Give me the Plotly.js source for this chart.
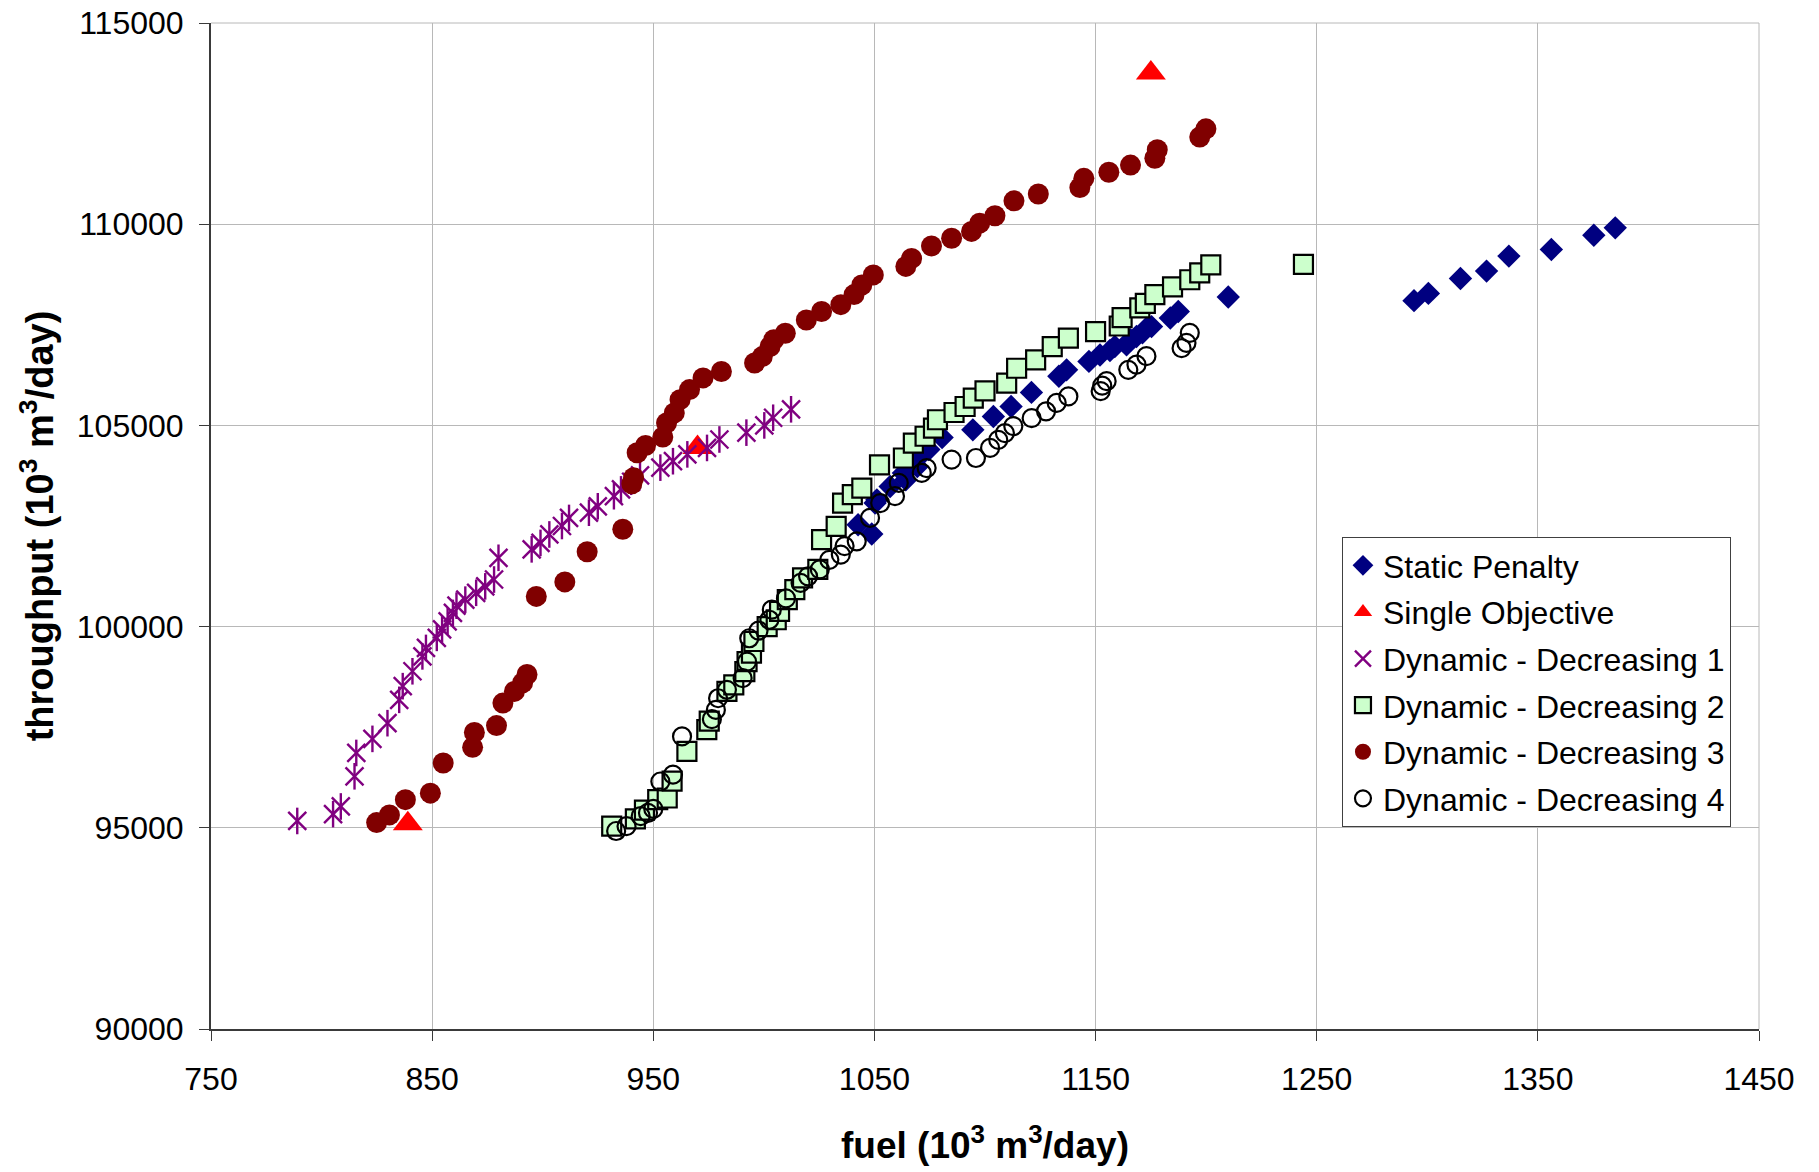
<!DOCTYPE html>
<html>
<head>
<meta charset="utf-8">
<script src="https://cdn.plot.ly/plotly-3.0.1.min.js"></script>
<style>html,body{margin:0;padding:0;background:#fff;}#chart{width:1819px;height:1172px;}</style>
</head>
<body>
<div id="chart"></div>
<script>
// ---- data (fuel in 10^3 m3/day, throughput in 10^3 m3/day) ----
const staticFuel = [1042.6, 1048.8, 1050.3, 1051.1, 1057.1, 1063.1, 1064.2, 1069.1, 1069.4, 1074.6, 1080.6, 1094.5, 1103.8, 1111.8, 1121.0, 1133.4, 1136.9, 1147.0, 1152.0, 1156.5, 1158.7, 1164.0, 1165.8, 1168.5, 1171.2, 1173.8, 1175.3, 1183.8, 1187.4, 1210.0, 1294.0, 1300.5, 1315.0, 1326.8, 1336.9, 1356.1, 1375.3, 1385.0];
const staticThru = [102530, 102300, 103070, 103150, 103480, 103815, 103650, 104150, 103980, 104400, 104700, 104890, 105220, 105470, 105820, 106220, 106380, 106590, 106750, 106860, 106960, 107000, 107130, 107210, 107300, 107460, 107455, 107670, 107830, 108190, 108100, 108280, 108650, 108835, 109207, 109372, 109727, 109909];

const singleFuel = [839, 970, 1175];
const singleThru = [95100, 104450, 113760];

const dyn1Fuel = [789.0, 805.2, 808.7, 814.9, 815.7, 823.0, 829.8, 835.1, 836.7, 841.1, 845.6, 847.2, 852.1, 854.5, 857.0, 859.4, 861.0, 865.0, 869.9, 874.0, 878.0, 880.0, 895.0, 899.0, 903.0, 908.7, 911.9, 920.9, 924.9, 932.2, 935.4, 940.0, 944.0, 953.2, 958.9, 965.4, 974.3, 979.9, 992.1, 1000.2, 1004.2, 1012.3];
const dyn1Thru = [95170, 95340, 95530, 96280, 96860, 97210, 97600, 98180, 98520, 98890, 99260, 99470, 99720, 99930, 100130, 100340, 100520, 100670, 100840, 101000, 101170, 101710, 101920, 102080, 102290, 102500, 102700, 102830, 102990, 103240, 103410, 103600, 103760, 103950, 104110, 104280, 104440, 104650, 104820, 105000, 105190, 105400];

const dyn2Fuel = [931.2, 941.9, 946.0, 952.0, 956.3, 958.5, 965.2, 974.2, 975.3, 983.3, 986.4, 991.4, 992.4, 994.4, 995.5, 1001.5, 1005.6, 1007.1, 1010.6, 1014.0, 1017.5, 1024.4, 1026.1, 1032.7, 1035.6, 1040.0, 1044.3, 1052.3, 1063.1, 1067.6, 1072.9, 1076.7, 1078.5, 1086.0, 1091.0, 1094.7, 1100.0, 1109.8, 1114.3, 1122.9, 1130.4, 1137.7, 1150.0, 1160.7, 1162.0, 1170.0, 1172.5, 1176.8, 1184.8, 1192.6, 1197.1, 1202.1, 1244.0];
const dyn2Thru = [95040, 95220, 95440, 95700, 95740, 96160, 96900, 97440, 97650, 98390, 98550, 98880, 99130, 99340, 99630, 100000, 100170, 100380, 100670, 100920, 101210, 101420, 102160, 102490, 103070, 103280, 103440, 104020, 104190, 104560, 104730, 104930, 105140, 105320, 105470, 105680, 105860, 106050, 106420, 106630, 106960, 107170, 107330, 107470, 107680, 107920, 108030, 108250, 108440, 108620, 108790, 108990, 109000];

const dyn3Fuel = [824.9, 830.7, 837.9, 849.2, 855.0, 868.3, 869.1, 879.1, 882.0, 887.2, 890.9, 892.9, 897.1, 910.0, 920.1, 936.2, 940.3, 941.1, 942.7, 946.5, 954.3, 956.0, 959.5, 962.1, 966.4, 972.5, 980.8, 995.8, 999.3, 1002.8, 1004.5, 1009.7, 1019.2, 1026.1, 1034.8, 1040.8, 1044.3, 1049.5, 1064.2, 1066.8, 1075.8, 1084.9, 1093.9, 1097.6, 1104.5, 1113.1, 1124.1, 1142.9, 1144.7, 1156.0, 1165.8, 1176.8, 1177.9, 1197.1, 1199.9];
const dyn3Thru = [95130, 95320, 95700, 95860, 96610, 97000, 97370, 97540, 98100, 98390, 98600, 98810, 100750, 101110, 101860, 102420, 103550, 103700, 104320, 104500, 104710, 105060, 105310, 105640, 105890, 106180, 106340, 106550, 106710, 106960, 107130, 107290, 107620, 107830, 108000, 108250, 108490, 108740, 108950, 109150, 109460, 109650, 109820, 110025, 110210, 110580, 110750, 110910, 111140, 111290, 111470, 111640, 111850, 112165, 112370];

const dyn4Fuel = [933.2, 937.9, 944.3, 947.6, 950.0, 953.2, 958.9, 963.0, 976.5, 978.3, 979.3, 983.3, 990.4, 992.4, 993.4, 997.6, 1002.5, 1003.6, 1010.0, 1016.6, 1020.0, 1025.3, 1029.6, 1034.8, 1036.5, 1042.0, 1048.0, 1052.6, 1059.3, 1061.0, 1071.4, 1073.6, 1084.9, 1095.9, 1102.3, 1106.0, 1109.0, 1112.8, 1121.1, 1127.6, 1132.4, 1137.7, 1152.3, 1153.0, 1155.0, 1164.8, 1168.5, 1173.0, 1188.9, 1191.1, 1192.6];
const dyn4Thru = [94920, 95040, 95290, 95370, 95470, 96150, 96320, 97270, 97700, 97930, 98220, 98430, 98720, 99130, 99710, 99900, 100170, 100420, 100700, 101085, 101250, 101420, 101660, 101790, 102000, 102120, 102700, 103070, 103240, 103570, 103820, 103940, 104150, 104190, 104440, 104640, 104810, 104980, 105180, 105350, 105560, 105720, 105850, 105990, 106100, 106380, 106510, 106720, 106920, 107050, 107300];

const seriesNames = ["Static Penalty", "Single Objective", "Dynamic - Decreasing 1", "Dynamic - Decreasing 2", "Dynamic - Decreasing 3", "Dynamic - Decreasing 4"];
const xTickVals = [750, 850, 950, 1050, 1150, 1250, 1350, 1450];
const yTickVals = [90000, 95000, 100000, 105000, 110000, 115000];
const xTitle = "fuel (10<sup>3</sup> m<sup>3</sup>/day)";
const yTitle = "throughput (10<sup>3</sup> m<sup>3</sup>/day)";

const FONT = "Liberation Sans, Arial, Helvetica, sans-serif";

const traces = [
  {x: staticFuel, y: staticThru, name: seriesNames[0], legendgroup: "g0", type: "scatter", mode: "markers",
   marker: {symbol: "diamond", size: 18, color: "#000080", line: {width: 0}}},
  {x: singleFuel, y: singleThru, name: seriesNames[1], legendgroup: "g1", type: "scatter", mode: "markers",
   marker: {symbol: "triangle-up", size: 26, color: "#FF0000", line: {width: 0}}},
  {x: dyn1Fuel, y: dyn1Thru, name: seriesNames[2], legendgroup: "g2", type: "scatter", mode: "markers",
   marker: {symbol: "x-thin-open", size: 18, color: "#800080", line: {width: 2.4, color: "#800080"}}},
  {x: dyn1Fuel, y: dyn1Thru, name: seriesNames[2], legendgroup: "g2", showlegend: false, type: "scatter", mode: "markers",
   marker: {symbol: "line-ns-open", size: 19, color: "#800080", line: {width: 2.4, color: "#800080"}}},
  {x: dyn2Fuel, y: dyn2Thru, name: seriesNames[3], legendgroup: "g3", type: "scatter", mode: "markers",
   marker: {symbol: "square", size: 19, color: "#CCFFCC", line: {width: 2.2, color: "#000000"}}},
  {x: dyn3Fuel, y: dyn3Thru, name: seriesNames[4], legendgroup: "g4", type: "scatter", mode: "markers",
   marker: {symbol: "circle", size: 21, color: "#800000", line: {width: 0}}},
  {x: dyn4Fuel, y: dyn4Thru, name: seriesNames[5], legendgroup: "g5", type: "scatter", mode: "markers",
   marker: {symbol: "circle-open", size: 18, color: "#000000", line: {width: 2.2, color: "#000000"}}}
];

const layout = {
  width: 1819, height: 1172,
  paper_bgcolor: "#ffffff", plot_bgcolor: "#ffffff",
  font: {family: FONT, color: "#000000", size: 32},
  margin: {l: 211, r: 60, t: 23, b: 143, pad: 0},
  showlegend: true,
  xaxis: {
    range: [750, 1450], tickvals: xTickVals, ticktext: xTickVals.map(String),
    showgrid: true, gridcolor: "#b8b8b8", gridwidth: 1,
    showline: true, linecolor: "#3a3a3a", linewidth: 2,
    ticks: "outside", ticklen: 10, tickwidth: 1, tickcolor: "#3a3a3a",
    ticklabelstandoff: 11,
    tickfont: {family: FONT, size: 32, color: "#000"},
    zeroline: false,
    title: {text: xTitle, font: {family: FONT, size: 37, color: "#000", weight: "bold"}, standoff: 36}
  },
  yaxis: {
    range: [90000, 115000], tickvals: yTickVals, ticktext: yTickVals.map(String),
    showgrid: true, gridcolor: "#b8b8b8", gridwidth: 1,
    showline: true, linecolor: "#3a3a3a", linewidth: 2,
    ticks: "outside", ticklen: 10, tickwidth: 1, tickcolor: "#3a3a3a",
    ticklabelstandoff: 9,
    tickfont: {family: FONT, size: 32, color: "#000"},
    zeroline: false,
    title: {text: yTitle, font: {family: FONT, size: 38, color: "#000", weight: "bold"}, standoff: 12}
  },
  legend: {
    x: 0.7306, y: 0.489, xanchor: "left", yanchor: "top",
    bgcolor: "#ffffff", bordercolor: "#404040", borderwidth: 1,
    font: {family: FONT, size: 32, color: "#000"},
    tracegroupgap: 2, traceorder: "grouped"
  },
  shapes: [
    {type: "line", xref: "paper", yref: "paper", x0: 0, x1: 1, y0: 1, y1: 1, line: {color: "#b8b8b8", width: 1}, layer: "below"},
    {type: "line", xref: "paper", yref: "paper", x0: 1, x1: 1, y0: 0, y1: 1, line: {color: "#b8b8b8", width: 1}, layer: "below"}
  ]
};

Plotly.newPlot("chart", traces, layout, {displayModeBar: false, staticPlot: true});
</script>
</body>
</html>
